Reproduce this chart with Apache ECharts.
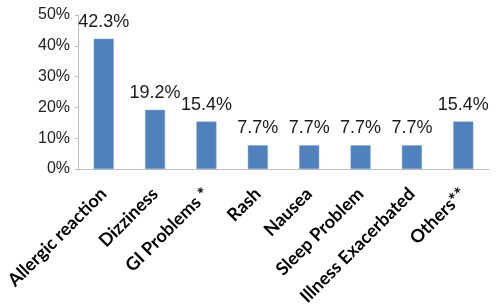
<!DOCTYPE html>
<html>
<head>
<meta charset="utf-8">
<script src="https://cdn.jsdelivr.net/npm/echarts@6/dist/echarts.min.js"></script>
<style>
  html, body { margin: 0; padding: 0; background: #fff; }
  #chart { width: 496px; height: 307px; }
</style>
</head>
<body>
<div id="chart"></div>
<script>
// categories and percentages
const categories = ['Allergic reaction', 'Dizziness', 'GI Problems *', 'Rash', 'Nausea', 'Sleep Problem', 'Illness Exacerbated', 'Others**'];
const percents = [42.3, 19.2, 15.4, 7.7, 7.7, 7.7, 7.7, 15.4];
const yTicks = [0, 10, 20, 30, 40, 50];

const myChart = echarts.init(document.getElementById('chart'));
myChart.setOption({
    animation: false,
    grid: { left: 78, right: 7, top: 15, bottom: 138, outerBoundsMode: 'none' },
    xAxis: {
        type: 'category',
        data: categories,
        axisLine: { lineStyle: { color: '#bfbfbf', width: 1 } },
        axisTick: { show: false },
        axisLabel: {
            interval: 0,
            rotate: 45,
            margin: 22,
            color: '#000',
            fontFamily: 'Lato',
            fontWeight: 'bold',
            fontSize: 18
        }
    },
    yAxis: {
        type: 'value',
        min: yTicks[0],
        max: yTicks[yTicks.length - 1],
        interval: 10,
        splitLine: { show: false },
        axisLine: { show: true, lineStyle: { color: '#bfbfbf', width: 1 } },
        axisTick: { show: true, length: 3, lineStyle: { color: '#bfbfbf' } },
        axisLabel: {
            formatter: '{value}%',
            margin: 8,
            color: '#222',
            fontFamily: 'Liberation Sans',
            fontSize: 16
        }
    },
    series: [
        {
            type: 'bar',
            data: percents,
            barWidth: 20,
            itemStyle: { color: '#4f81bd', borderColor: '#7a9fd0', borderWidth: 0.5 },
            label: {
                show: true,
                position: 'top',
                distance: 8,
                formatter: p => p.value.toFixed(1) + '%',
                color: '#1a1a1a',
                fontFamily: 'Liberation Sans',
                fontSize: 18
            }
        }
    ]
});
</script>
</body>
</html>
